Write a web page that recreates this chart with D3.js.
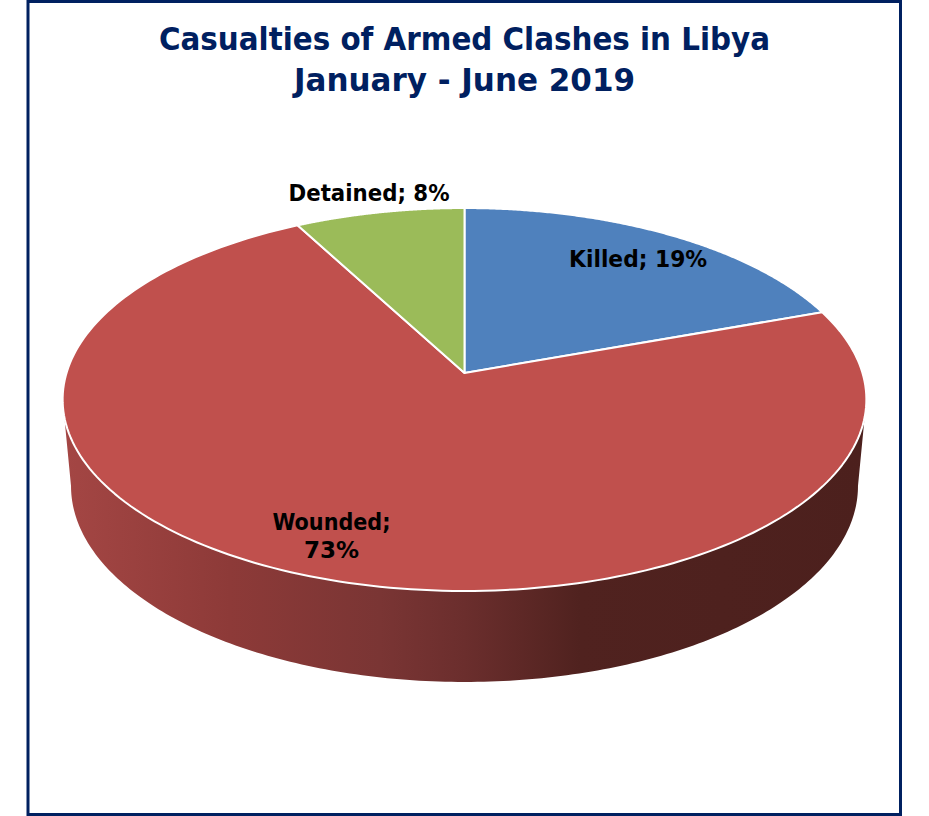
<!DOCTYPE html>
<html><head><meta charset="utf-8">
<script src="https://cdn.jsdelivr.net/npm/d3@7/dist/d3.min.js"></script>
<style>html,body{margin:0;padding:0;background:#fff}svg{display:block}
text{font-family:"DejaVu Sans";font-stretch:condensed;font-weight:bold}</style>
</head><body><div id="c"></div>
<script>
const titleLines = ["Casualties of Armed Clashes in Libya", "January - June 2019"];
const categories = ["Killed", "Wounded", "Detained"];
const values = [19.5, 72.7, 7.8];
const labels = [["Killed; 19%"], ["Wounded;", "73%"], ["Detained; 8%"]];
const colors = ["#4f81bd", "#c0504d", "#9bbb59"];
const labelRadius = [0.83, 0.83, 1.14];
const labelNudge = [3, 0, 0];
const titleWidths = [611, 341];
const labelWidths = [[138], [118, 55], [161]];

const W = 929, H = 816, cx = 464.5, k = -0.1384;
const topFace = {y0: 373, a: 398, b: 187.8};
const baseFace = {y0: 458.9, a: 389.7, b: 192.2};
const project = (t, r, f) => {
  const x = r * Math.sin(t), y = -r * Math.cos(t), d = 1 + k * y;
  return [cx + f.a * x / d, f.y0 + f.b * y / d];
};
const svg = d3.select("#c").append("svg").attr("width", W).attr("height", H);

svg.append("rect").attr("x", 28).attr("y", 1.5).attr("width", 872.5).attr("height", 813)
  .attr("fill", "#fff").attr("stroke", "#002060").attr("stroke-width", 3);

svg.selectAll("text.title").data(titleLines).join("text").attr("class", "title")
  .attr("x", cx).attr("y", (d, i) => 50 + i * 41).attr("text-anchor", "middle")
  .attr("font-size", 32).attr("fill", "#002060")
  .attr("textLength", (d, i) => titleWidths[i]).attr("lengthAdjust", "spacingAndGlyphs").text(d => d);

const defs = svg.append("defs");
const grad = defs.append("linearGradient").attr("id", "side").attr("gradientUnits", "userSpaceOnUse")
  .attr("x1", 64).attr("x2", 866).attr("y1", 0).attr("y2", 0);
[[64,"#a44644"],[230,"#8d3a38"],[380,"#7a3534"],[465,"#6b2e2d"],[580,"#50221f"],[866,"#4c201d"]]
  .forEach(([x,c]) => grad.append("stop").attr("offset", (x-64)/802).attr("stop-color", c));

const arcs = d3.pie().sort(null).startAngle(0).endAngle(2*Math.PI)(values);
const line = d3.line();
const sample = (a, b, f) => d3.range(0, 201).map(i => project(a + (b-a)*i/200, 1, f));

// Front wall: the visible part of the wounded slice's rim
const tR = Math.acos(-0.138), tL = 2*Math.PI - tR;
const w = arcs[1];
const from = Math.max(w.startAngle, tR), to = Math.min(w.endAngle, tL);
svg.append("path").attr("fill", "url(#side)")
  .attr("d", line(sample(from, to, topFace).concat(sample(to, from, baseFace))) + "Z");

// Top face
svg.selectAll("path.slice").data(arcs).join("path").attr("class", "slice")
  .attr("fill", (d, i) => colors[i]).attr("stroke", "#fff").attr("stroke-width", 2).attr("stroke-linejoin", "round")
  .attr("d", d => line([project(0, 0, topFace)].concat(sample(d.startAngle, d.endAngle, topFace))) + "Z");

// Labels
arcs.forEach((d, i) => {
  const m = (d.startAngle + d.endAngle) / 2, p = project(m, labelRadius[i], topFace), L = labels[i];
  svg.selectAll(null).data(L).join("text").attr("class", "lab")
    .attr("x", p[0]).attr("y", (s, j) => p[1] + 8 + labelNudge[i] + (j - (L.length-1)/2) * 28)
    .attr("text-anchor", "middle").attr("font-size", 23).attr("fill", "#000")
    .attr("textLength", (s, j) => labelWidths[i][j]).attr("lengthAdjust", "spacingAndGlyphs").text(s => s);
});
</script></body></html>
